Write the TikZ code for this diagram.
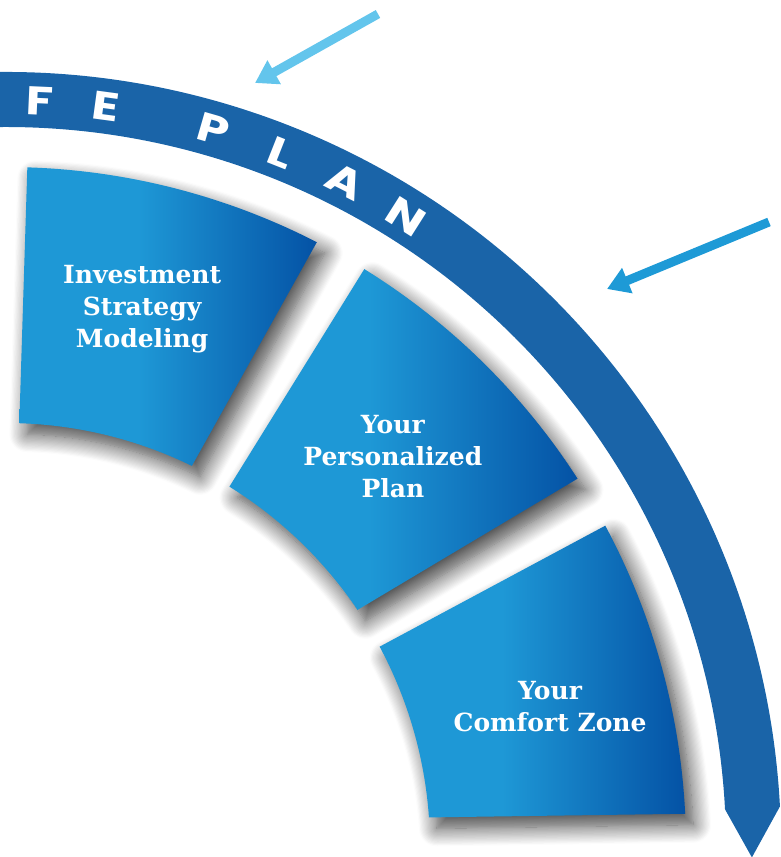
\documentclass[tikz,border=0pt]{standalone}
\usepackage{fontspec}
\usepackage{tikz}
\usetikzlibrary{arrows.meta, shadows.blur}

\newfontfamily\arcfont{Poppins}
\newfontfamily\tilefont{DejaVu Serif}

\definecolor{bandblue}{RGB}{26,100,168}
\definecolor{arrowlight}{RGB}{99,197,236}
\definecolor{arrowmid}{RGB}{30,154,214}
\definecolor{tileleft}{RGB}{30,152,214}
\definecolor{tileright}{RGB}{4,82,165}
\pgfdeclarehorizontalshading{tileshade}{100bp}{color(0bp)=(tileleft); color(25bp)=(tileleft); color(45bp)=(tileleft); color(75bp)=(tileright); color(100bp)=(tileright)}

\begin{document}
\begin{tikzpicture}[x=1pt, y=1pt,
    tile/.style={shading=tileshade, blur shadow={shadow xshift=8pt, shadow yshift=-11pt, shadow blur radius=18pt, shadow blur steps=16, shadow opacity=75}},
    tiletext/.style={text=white, align=center, font=\tilefont\bfseries\fontsize{25}{32}\selectfont},
    arcletter/.style={text=white, font=\arcfont\bfseries\fontsize{40}{40}\selectfont, inner sep=0pt},
    pointer/.style={line width=9pt, -{Triangle[length=22pt, width=26pt]}}]
    \useasboundingbox (-6,-10) rectangle (775,847);
    % band with its arrow tip
    \fill[bandblue] (100:775) arc[start angle=100, end angle=3, radius=775] -- (-0.8:746)
        -- (3:720) arc[start angle=3, end angle=100, radius=720] -- cycle;
    \foreach \ang/\ch [count=\i] in {87.4/F, 82.3/E, 73.9/P, 68.4/L, 63.0/A, 57.6/N}
        \node[arcletter, rotate=\ang-90, xscale=1.25] (letter\i) at (\ang:747) {\ch};
    % tiles
    \foreach \ang/\tang/\trad/\name/\txt in {88.2/75.8/555/invest/{Investment\\Strategy\\Modeling},
        58.2/45.3/550/plan/{Your\\Personalized\\Plan}, 28.2/14.5/562/comfort/{Your\\Comfort Zone}}{
        \path[tile] (\ang:680) arc[start angle=\ang, end angle=\ang-25.4, radius=680]
            -- (\ang-24.2:424) arc[start angle=\ang-24.2, end angle=\ang, radius=424] -- cycle;
        \node[tiletext] (\name) at (\tang:\trad) {\txt};
    }
    % pointers
    \coordinate (topTail) at (372,833);
    \coordinate (topTip) at (249,764);
    \coordinate (sideTail) at (763,625);
    \coordinate (sideTip) at (601,558);
    \draw[pointer, arrowlight] (topTail) -- (topTip);
    \draw[pointer, arrowmid] (sideTail) -- (sideTip);
\end{tikzpicture}
\end{document}
